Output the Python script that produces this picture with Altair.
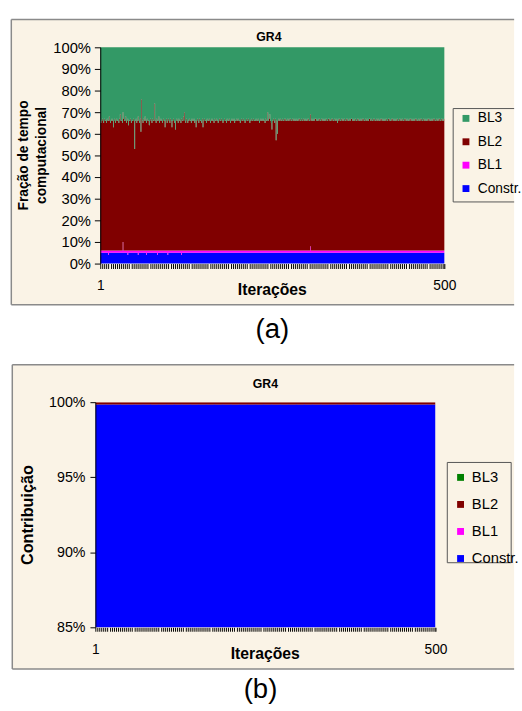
import altair as alt
import pandas as pd

FONT = "Liberation Sans"
SERIES = ["BL3", "BL2", "BL1", "Constr."]
STACK_ORDER = {"Constr.": 0, "BL1": 1, "BL2": 2, "BL3": 3}
COLORS_A = ["#339966", "#800000", "#FF00FF", "#0000FF"]
COLORS_B = ["#008000", "#800000", "#FF00FF", "#0000FF"]

# ---- panel (a): percent of computational time per iteration (1..500) ----
CONSTR_A = [
    5,5,5,5,5,5,5,5,5,5,5,5,4,5,5,5,5,5,5,5,5,5,5,5,5,
    5,5,5,5,5,5,5,5,5,5,5,5,5,5,5,4,5,5,5,5,5,5,5,5,5,
    5,5,5,5,5,4,5,5,5,5,5,5,5,5,5,5,5,4,5,5,5,5,5,5,5,
    5,5,5,5,5,5,5,5,4,5,5,5,5,5,5,5,5,5,5,5,5,5,5,4,5,
    5,5,5,5,5,5,5,5,5,5,5,5,5,5,5,5,5,5,4,5,5,5,5,5,5,
    5,5,5,5,5,5,5,5,5,5,5,5,5,5,5,5,5,5,5,5,5,5,5,5,5,
    5,5,5,5,5,5,5,5,5,5,5,5,5,5,5,5,5,5,5,5,5,5,5,5,5,
    5,5,5,5,5,5,5,5,5,5,5,5,5,5,5,5,5,5,5,5,5,5,5,5,5,
    5,5,5,5,5,5,5,5,5,5,5,5,5,5,5,5,5,5,5,5,5,5,5,5,5,
    5,5,5,5,5,5,5,5,5,5,5,5,5,5,5,5,5,5,5,5,5,5,5,5,5,
    5,5,5,5,5,5,5,5,5,5,5,5,5,5,5,5,5,5,5,5,5,5,5,5,5,
    5,5,5,5,5,5,5,5,5,5,5,5,5,5,5,5,5,5,5,5,5,5,5,5,5,
    5,5,5,5,5,5,5,5,5,5,5,5,5,5,5,5,5,5,5,5,5,5,5,5,5,
    5,5,5,5,5,5,5,5,5,5,5,5,5,5,5,5,5,5,5,5,5,5,5,5,5,
    5,5,5,5,5,5,5,5,5,5,5,5,5,5,5,5,5,5,5,5,5,5,5,5,5,
    5,5,5,5,5,5,5,5,5,5,5,5,5,5,5,5,5,5,5,5,5,5,5,5,5,
    5,5,5,5,5,5,5,5,5,5,5,5,5,5,5,5,5,5,5,5,5,5,5,5,5,
    5,5,5,5,5,5,5,5,5,5,5,5,5,5,5,5,5,5,5,5,5,5,5,5,5,
    5,5,5,5,5,5,5,5,5,5,5,5,5,5,5,5,5,5,5,5,5,5,5,5,5,
    5,5,5,5,5,5,5,5,5,5,5,5,5,5,5,5,5,5,5,5,5,5,5,5,5,
]
BL1_A = [
    1,1,1,1,1,1,1,1,1,1,1,1,2,1,1,1,1,1,1,1,1,1,1,1,1,
    1,1,1,1,1,1,1,1,5,1,1,1,1,1,1,2,1,1,1,1,1,1,1,1,1,
    1,1,1,1,1,2,1,1,1,1,1,1,1,1,1,1,1,2,1,1,1,1,1,1,1,
    1,1,1,1,1,1,1,1,2,1,1,1,1,1,1,1,1,1,1,1,1,1,1,2,1,
    1,1,1,1,1,1,1,1,1,1,1,1,1,1,1,1,1,1,2,1,1,1,1,1,1,
    1,1,1,1,1,1,1,1,1,1,1,1,1,1,1,1,1,1,1,1,1,1,1,1,1,
    1,1,1,1,1,1,1,1,1,1,1,1,1,1,1,1,1,1,1,1,1,1,1,1,1,
    1,1,1,1,1,1,1,1,1,1,1,1,1,1,1,1,1,1,1,1,1,1,1,1,1,
    1,1,1,1,1,1,1,1,1,1,1,1,1,1,1,1,1,1,1,1,1,1,1,1,1,
    1,1,1,1,1,1,1,1,1,1,1,1,1,1,1,1,1,1,1,1,1,1,1,1,1,
    1,1,1,1,1,1,1,1,1,1,1,1,1,1,1,1,1,1,1,1,1,1,1,1,1,
    1,1,1,1,1,1,1,1,1,1,1,1,1,1,1,1,1,1,1,1,1,1,1,1,1,
    1,1,1,1,1,3,1,1,1,1,1,1,1,1,1,1,1,1,1,1,1,1,1,1,1,
    1,1,1,1,1,1,1,1,1,1,1,1,1,1,1,1,1,1,1,1,1,1,1,1,1,
    1,1,1,1,1,1,1,1,1,1,1,1,1,1,1,1,1,1,1,1,1,1,1,1,1,
    1,1,1,1,1,1,1,1,1,1,1,1,1,1,1,1,1,1,1,1,1,1,1,1,1,
    1,1,1,1,1,1,1,1,1,1,1,1,1,1,1,1,1,1,1,1,1,1,1,1,1,
    1,1,1,1,1,1,1,1,1,1,1,1,1,1,1,1,1,1,1,1,1,1,1,1,1,
    1,1,1,1,1,1,1,1,1,1,1,1,1,1,1,1,1,1,1,1,1,1,1,1,1,
    1,1,1,1,1,1,1,1,1,1,1,1,1,1,1,1,1,1,1,1,1,1,1,1,1,
]
BL2_A = [
    60,59,60,61,60,59,61,60,60,59,61,60,60,62,60,59,60,61,60,57,60,61,59,60,61,
    60,60,59,61,63,60,60,59,60,61,60,60,62,59,60,61,58,60,60,61,59,60,60,61,60,
    47,60,61,59,60,62,60,59,61,55,70,60,59,61,60,62,60,59,61,60,60,58,60,61,60,
    59,61,60,60,68,60,59,61,60,60,62,59,60,61,60,59,60,61,60,57,60,61,59,60,61,
    60,59,61,60,57,60,61,60,59,56,60,61,60,59,61,60,60,59,61,60,60,62,64,60,59,
    61,60,59,60,61,60,60,59,61,60,60,61,59,60,57,60,61,60,59,61,60,60,59,61,57,
    60,61,60,60,59,61,60,60,61,60,59,60,61,60,60,59,61,60,60,61,60,59,60,61,60,
    60,61,60,59,60,61,60,60,59,61,60,60,61,60,59,60,61,60,60,61,59,60,60,61,60,
    61,60,60,59,60,61,60,60,61,60,59,60,61,60,60,61,60,59,60,61,60,60,61,60,60,
    60,61,60,60,61,60,59,60,61,60,60,61,60,60,59,61,60,60,64,60,61,63,60,59,56,
    60,61,60,59,61,51,60,54,60,61,60,61,60,60,61,60,60,61,60,61,60,60,61,60,61,
    60,61,60,60,61,60,61,60,60,61,60,60,61,60,61,60,60,61,60,60,61,60,61,60,60,
    61,60,61,60,60,61,60,61,60,60,61,60,61,61,60,60,61,60,61,60,60,61,60,61,60,
    60,61,60,61,60,60,61,61,60,60,61,60,61,60,60,61,60,61,60,59,61,60,61,60,60,
    61,60,61,60,61,60,60,61,60,61,60,60,61,60,61,61,60,60,61,60,61,60,60,61,60,
    61,60,60,61,60,61,60,61,60,60,61,60,61,60,60,61,61,60,61,60,60,61,60,61,60,
    60,61,60,61,60,60,61,60,61,60,61,60,60,61,60,61,60,60,61,61,60,60,61,60,61,
    60,61,60,60,61,60,61,60,60,61,60,61,60,61,60,60,61,60,61,60,61,60,60,61,60,
    61,60,61,60,60,61,60,61,60,61,60,60,61,60,61,60,61,60,60,61,60,61,60,60,61,
    60,61,60,61,60,60,61,60,61,60,61,60,60,61,60,61,60,61,60,60,61,60,61,60,61,
]

# ---- panel (b): contribution, BL2 share in hundredths of a percent ----
BL2_B_CENTI = [
    15,15,16,15,15,15,14,15,15,15,16,15,15,15,15,14,15,15,15,15,16,15,15,15,15,
    15,14,15,15,15,15,16,15,15,15,15,15,14,15,15,15,15,16,15,15,15,15,15,14,15,
    15,15,15,16,15,15,15,15,14,15,15,15,15,15,16,15,15,15,15,15,14,15,15,15,15,
    16,15,15,15,15,15,14,15,15,15,15,15,16,15,15,15,15,15,14,15,15,15,15,15,16,
    15,15,15,15,14,15,15,15,15,15,16,15,15,15,15,15,14,15,15,15,15,15,16,15,15,
    15,15,14,15,15,15,15,15,16,15,15,15,15,15,14,15,15,15,15,15,16,15,15,15,15,
    15,14,15,15,15,15,15,16,15,15,15,15,15,14,15,15,15,15,15,16,15,15,15,15,15,
    14,15,15,15,15,15,16,15,15,15,15,15,14,15,15,15,15,15,16,15,15,15,15,15,14,
    15,15,15,15,15,16,15,15,15,15,15,14,15,15,15,15,15,16,15,15,15,15,15,14,15,
    15,15,15,15,16,15,15,15,15,15,14,15,15,15,15,15,16,15,15,15,15,15,14,15,15,
    15,15,15,16,15,15,15,15,15,14,15,15,15,15,15,16,15,15,15,15,15,14,15,15,15,
    15,15,16,15,15,15,15,15,14,15,15,15,15,15,16,15,15,15,15,15,14,15,15,15,15,
    15,16,15,15,15,15,15,14,15,15,15,15,15,16,15,15,15,15,15,14,15,15,15,15,15,
    16,15,15,15,15,15,14,15,15,15,15,15,16,15,15,15,15,15,14,15,15,15,15,15,16,
    15,15,15,15,15,14,15,15,15,15,15,16,15,15,15,15,15,14,15,15,15,15,15,16,15,
    15,15,15,15,14,15,15,15,15,15,16,15,15,15,15,15,14,15,15,15,15,15,16,15,15,
    15,15,15,14,15,15,15,15,15,16,15,15,15,15,15,14,15,15,15,15,15,16,15,15,15,
    15,15,14,15,15,15,15,15,16,15,15,15,15,15,14,15,15,15,15,15,16,15,15,15,15,
    15,14,15,15,15,15,15,16,15,15,15,15,15,14,15,15,15,15,15,16,15,15,15,15,15,
    14,15,15,15,15,15,16,15,15,15,15,15,14,15,15,15,15,15,16,15,15,15,15,15,15,
]

Y_TITLE_A = ["Fração de tempo", "computacional"]
Y_TICKS_A = [0, 0.1, 0.2, 0.3, 0.4, 0.5, 0.6, 0.7, 0.8, 0.9, 1.0]
Y_TICKS_B = [0.85, 0.9, 0.95, 1.0]
X_TICKS = list(range(1, 500, 3)) + [500]

rows_a = []
for i, (c, b1, b2) in enumerate(zip(CONSTR_A, BL1_A, BL2_A), start=1):
    vals = {"Constr.": c, "BL1": b1, "BL2": b2, "BL3": 100 - c - b1 - b2}
    for s, v in vals.items():
        rows_a.append({"it": i, "s": s, "k": STACK_ORDER[s], "v": v})
df_a = pd.DataFrame(rows_a)

rows_b = []
for i, b2 in enumerate(BL2_B_CENTI, start=1):
    vals = {"Constr.": 100 - b2 / 100.0, "BL2": b2 / 100.0}
    for s, v in vals.items():
        rows_b.append({"it": i, "s": s, "k": STACK_ORDER[s], "v": v})
df_b = pd.DataFrame(rows_b)

BEIGE = "#FAF3E6"
FRAME = "#8a8a8a"
LABEL_EXPR = "datum.value == 1 || datum.value == 500 ? datum.label : ''"


def one():
    return alt.Data(values=[{}])


def deco_rect(x1, x2, y1, y2, fill, stroke=None):
    kw = dict(fill=fill)
    if stroke:
        kw.update(stroke=stroke, strokeWidth=1)
    return alt.Chart(one()).mark_rect(**kw).encode(
        x=alt.value(x1), x2=alt.value(x2), y=alt.value(y1), y2=alt.value(y2))


def hrule(x1, x2, y, color=FRAME, w=1.5):
    return alt.Chart(one()).mark_rule(color=color, strokeWidth=w).encode(
        x=alt.value(x1), x2=alt.value(x2), y=alt.value(y))


def vrule(x, y1, y2, color=FRAME, w=1.5):
    return alt.Chart(one()).mark_rule(color=color, strokeWidth=w).encode(
        x=alt.value(x), y=alt.value(y1), y2=alt.value(y2))


def text(t, x, y, size, weight="normal", angle=0):
    return alt.Chart(one()).mark_text(
        text=t, font=FONT, fontSize=size, fontWeight=weight, color="#000",
        align="center", baseline="middle", angle=angle).encode(
            x=alt.value(x), y=alt.value(y))


# ---------------- panel (a) ----------------
A_X0, A_Y0 = 96, 41.7
area_a = alt.Chart(df_a).mark_area(interpolate="step", opacity=1).encode(
    x=alt.X("it:Q",
            scale=alt.Scale(domain=[1, 500], range=[5, 355], nice=False, zero=False),
            axis=alt.Axis(values=X_TICKS, labelExpr=LABEL_EXPR, labelFlush=False,
                          labelOverlap=False, grid=False, domain=False, tickSize=5,
                          tickColor="#000", tickWidth=1, labelPadding=10, labelFont=FONT,
                          labelFontSize=14, labelColor="#000", title="Iterações",
                          titleFont=FONT, titleFontSize=16, titleFontWeight="bold",
                          titleColor="#000", titleX=179.5, titleY=31.6,
                          titleBaseline="alphabetic", titleAlign="center", zindex=1)),
    y=alt.Y("v:Q", stack="normalize",
            scale=alt.Scale(domain=[0, 1], nice=False),
            axis=alt.Axis(values=Y_TICKS_A, format=".0%", grid=False, domainColor="#000",
                          tickSize=6, tickColor="#000", labelFont=FONT, labelFontSize=15,
                          labelColor="#000", labelPadding=4, title=None,
                          offset=-5, zindex=1)),
    color=alt.Color("s:N", scale=alt.Scale(domain=SERIES, range=COLORS_A),
                    legend=alt.Legend(orient="none", legendX=370, legendY=65.3, title=None,
                                      symbolType="square", symbolSize=49,
                                      symbolStrokeWidth=0, symbolOpacity=1,
                                      labelFont=FONT, labelFontSize=14, labelColor="#000",
                                      labelOffset=5, rowPadding=9.8, padding=0, zindex=1)),
    order=alt.Order("k:Q"),
)

fx1, fx2 = 10.5 - A_X0, 522 - A_X0
fy1, fy2 = 13.5 - A_Y0, 303.5 - A_Y0
lx1, ly1, ly2 = 460 - A_X0, 104 - A_Y0, 199 - A_Y0
panel_a = alt.layer(
    deco_rect(fx1, fx2, fy1, fy2, BEIGE),
    area_a,
    hrule(fx1, fx2, fy1), vrule(fx1, fy1, fy2), hrule(fx1, fx2, fy2),
    hrule(lx1, fx2, ly1, "#555", 1), vrule(lx1, ly1, ly2, "#555", 1),
    hrule(lx1, fx2, ly2, "#555", 1),
    text("GR4", 272.5 - A_X0, 31.5 - A_Y0, 12.5, "bold"),
    text(Y_TITLE_A[0], 23.5 - A_X0, 151.7 - A_Y0, 14, "bold", 270),
    text(Y_TITLE_A[1], 42.3 - A_X0, 151.7 - A_Y0, 14, "bold", 270),
    text("(a)", 276 - A_X0, 329 - A_Y0, 28),
).properties(width=355, height=220)

# ---------------- panel (b) ----------------
B_X0, B_Y0 = 96, 402.7
area_b = alt.Chart(df_b).mark_area(interpolate="step", opacity=1, clip=True).encode(
    x=alt.X("it:Q",
            scale=alt.Scale(domain=[1, 500], range=[0, 346], nice=False, zero=False),
            axis=alt.Axis(values=X_TICKS, labelExpr=LABEL_EXPR, labelFlush=False,
                          labelOverlap=False, grid=False, domain=False, tickSize=4,
                          tickColor="#000", tickWidth=1, labelPadding=11.5, labelFont=FONT,
                          labelFontSize=14, labelColor="#000", title="Iterações",
                          titleFont=FONT, titleFontSize=16, titleFontWeight="bold",
                          titleColor="#000", titleX=172.3, titleY=31.6,
                          titleBaseline="alphabetic", titleAlign="center", zindex=1)),
    y=alt.Y("v:Q", stack="normalize",
            scale=alt.Scale(domain=[0.85, 1], nice=False, zero=False),
            axis=alt.Axis(values=Y_TICKS_B, format=".0%", grid=False, domainColor="#000",
                          tickSize=5.5, tickColor="#000", labelFont=FONT, labelFontSize=14.5,
                          labelColor="#000", labelPadding=5, title="Contribuição",
                          titleFont=FONT, titleFontSize=16.5, titleFontWeight="bold",
                          titleColor="#000", titleX=-69.3, titleY=114.3, titleAngle=270,
                          titleAlign="center", titleBaseline="middle", zindex=1)),
    color=alt.Color("s:N", scale=alt.Scale(domain=SERIES, range=COLORS_B),
                    legend=alt.Legend(orient="none", legendX=364, legendY=69, title=None,
                                      symbolType="square", symbolSize=49,
                                      symbolStrokeWidth=0, symbolOpacity=1,
                                      labelFont=FONT, labelFontSize=15, labelColor="#000",
                                      labelOffset=4, rowPadding=11.5, padding=0, zindex=1)),
    order=alt.Order("k:Q"),
)

gx1, gx2 = 11.5 - B_X0, 522 - B_X0
gy1, gy2 = 364.5 - B_Y0, 674 - B_Y0
panel_b = alt.layer(
    deco_rect(gx1, gx2, gy1, gy2, BEIGE),
    area_b,
    hrule(gx1, gx2, gy1), vrule(gx1, gy1, gy2), hrule(gx1, gx2, gy2),
    deco_rect(454 - B_X0, 519 - B_X0, 464 - B_Y0, 566 - B_Y0, BEIGE, "#555"),
    text("GR4", 269 - B_X0, 384 - B_Y0, 12.5, "bold"),
    text("(b)", 264 - B_X0, 696 - B_Y0, 28),
).properties(width=346, height=229)

chart = alt.vconcat(panel_a, panel_b, spacing=141, bounds="flush").resolve_scale(
    color="independent", x="independent", y="independent"
).resolve_legend(color="independent").properties(
    padding={"left": 10, "top": 13, "right": 0, "bottom": 0},
    background="white",
).configure_view(stroke=None)

chart.save("out.html", embed_options={"renderer": "svg", "actions": False})
